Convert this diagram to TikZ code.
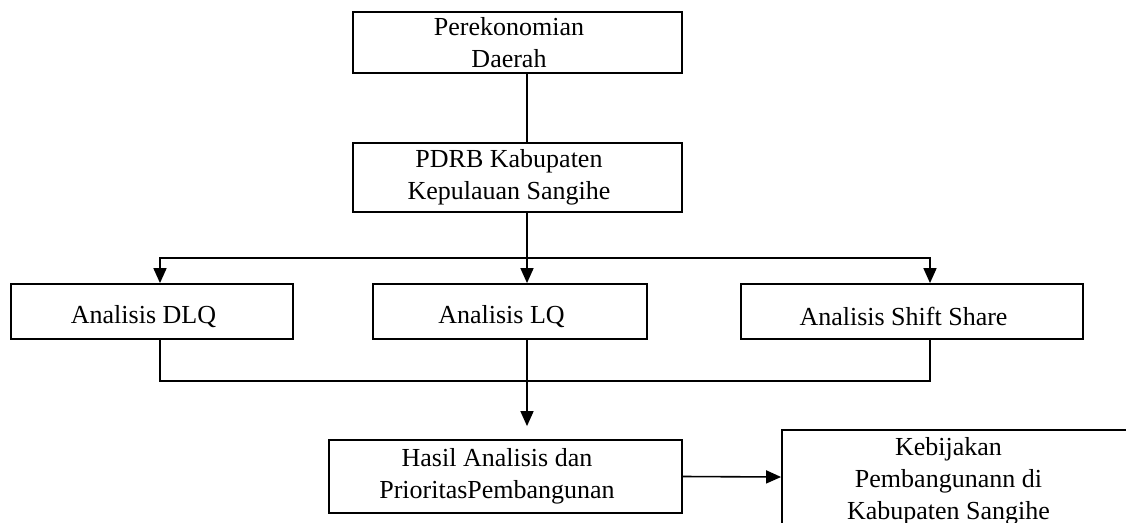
\documentclass[tikz,border=0pt]{standalone}
\usepackage{fontspec}
\setmainfont{Liberation Serif}
\usetikzlibrary{arrows.meta}
\begin{document}
\begin{tikzpicture}[x=1pt,y=-1pt,
  box/.style={draw, line width=1.8pt, inner sep=0pt},
  txt/.style={align=center, font=\fontsize{26}{32}\selectfont, xshift=-8.5pt, inner sep=0pt},
  onel/.style={txt, yshift=-5pt},
  conn/.style={line width=1.6pt},
  arr/.style={conn, -{Triangle[length=15pt,width=13pt]}}]
\useasboundingbox (0,0) rectangle (1126,522);
\clip (0,0) rectangle (1126,522);
\fill[white] (0,0) rectangle (1126,522);

\node[box, minimum width=329pt, minimum height=61pt,
  label={[txt]center:{Perekonomian\\Daerah}}] (eko) at (517.5,42.5) {};
\node[box, minimum width=329pt, minimum height=69pt,
  label={[txt]center:{PDRB Kabupaten\\Kepulauan Sangihe}}] (pdrb) at (517.5,177.5) {};
\node[box, minimum width=282pt, minimum height=55pt,
  label={[onel]center:{Analisis DLQ}}] (dlq) at (152,311.5) {};
\node[box, minimum width=274pt, minimum height=55pt,
  label={[onel]center:{Analisis LQ}}] (lq) at (510,311.5) {};
\node[box, minimum width=342pt, minimum height=55pt,
  label={[onel]center:{Analisis Shift Share}}] (ss) at (912,311.5) {};
\node[box, minimum width=353pt, minimum height=73pt,
  label={[txt]center:{Hasil Analisis dan\\PrioritasPembangunan}}] (hasil) at (505.5,476.5) {};
\node[box, minimum width=350pt, minimum height=94pt,
  label={[txt, yshift=-4pt]center:{Kebijakan\\Pembangunann di\\Kabupaten Sangihe}}] (keb) at (957,477) {};

\coordinate (cx) at (527,0);
\coordinate (cl) at (160,0);
\coordinate (cr) at (930,0);
\coordinate (split) at (527,258);
\coordinate (join) at (527,381);

\draw[conn] (eko.south -| cx) -- (pdrb.north -| cx);
\draw[arr] (pdrb.south -| cx) -- (lq.north -| cx);
\draw[arr] (split) -| (dlq.north -| cl);
\draw[arr] (split) -| (ss.north -| cr);
\draw[conn] (dlq.south -| cl) |- (join) -| (ss.south -| cr);
\draw[arr, shorten >=13pt] (lq.south -| cx) -- (hasil.north -| cx);
\draw[arr] (hasil.east) -- (keb.west);
\end{tikzpicture}
\end{document}
